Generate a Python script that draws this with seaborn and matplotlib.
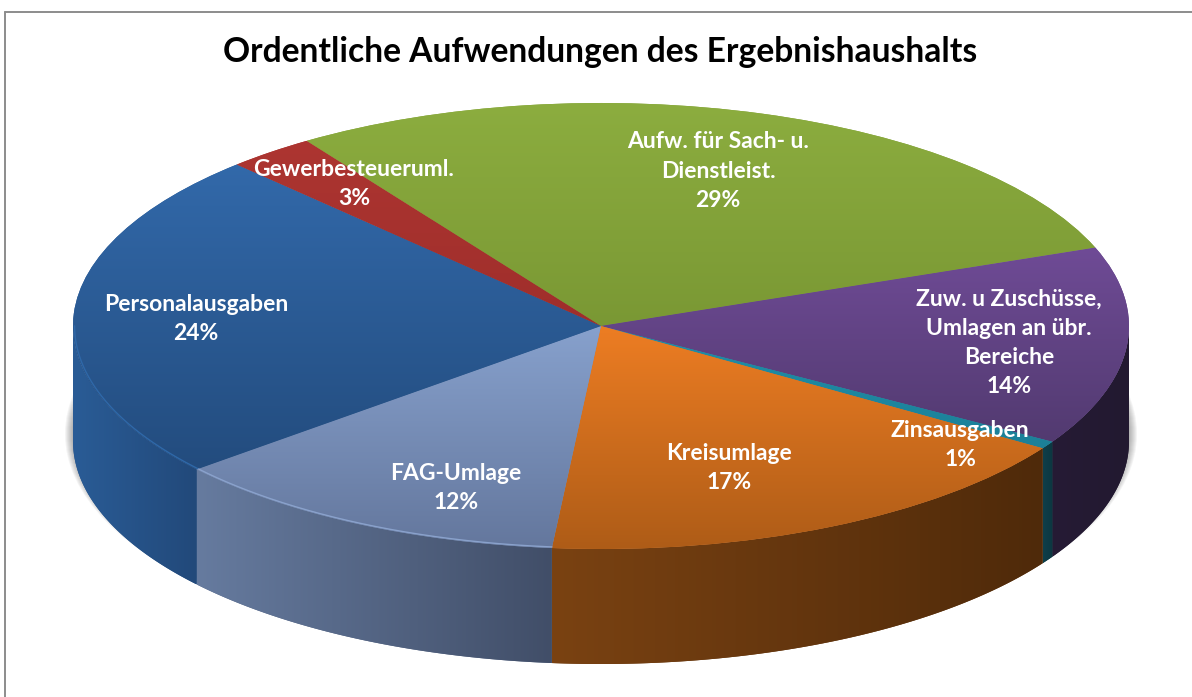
import numpy as np
import matplotlib
matplotlib.use('Agg')
import matplotlib.pyplot as plt
from matplotlib.lines import Line2D
from matplotlib.patches import Ellipse, Polygon
import seaborn as sns

# data, clockwise from the green slice
names = ['Aufw. für Sach- u.\nDienstleist.', 'Zuw. u Zuschüsse,\nUmlagen an übr.\nBereiche', 'Zinsausgaben',
         'Kreisumlage', 'FAG-Umlage', 'Personalausgaben', 'Gewerbesteueruml.']
values = [28.7, 14.4, 0.55, 17.25, 12.4, 24.0, 2.7]
title = 'Ordentliche Aufwendungen des Ergebnishaushalts'

# colours: top face (upper, lower) and side wall (left, right)
top_colors = [('#8cad3f', '#7a9834'), ('#6f4b96', '#523a70'), ('#1f8fa8', '#1c8098'), ('#ed7d23', '#ae5c17'),
              ('#87a1cd', '#64779d'), ('#3269aa', '#234c7e'), ('#ad3531', '#9f2e2b')]
wall_colors = [('#4d6020', '#4d6020'), ('#261b35', '#221930'), ('#0e3f4a', '#0c3640'), ('#7a4212', '#4f2a0a'),
               ('#667b9f', '#414e68'), ('#2a5c96', '#22497a'), ('#5f1c1a', '#5f1c1a')]
rim_colors = [None, None, None, None, '#8aa2cc', '#2f68a8', None]

# label centres in pixels of the first line
label_pos = [(718, 142), (1009, 299), (960, 430), (729, 453), (456, 473), (196, 304), (354, 169)]

# pixel geometry of the pie
W, H = 1192, 697
cx, cy, rx, ry = 601, 326, 528, 223
depth = 115 / ry


def px(x, y):
    return (x - cx) / rx, (cy - y) / ry


sns.set_theme(style='white')
plt.rcParams['font.family'] = ['Lato', 'DejaVu Sans']

fig = plt.figure(figsize=(W / 100, H / 100), dpi=100, facecolor='white')
ax = fig.add_axes([0, 0, 1, 1])

wedges, _ = ax.pie(values, startangle=123.9, counterclock=False, radius=1, center=(0, 0))
ax.set_aspect('auto')
ax.set_axis_off()
xlim = (px(0, 0)[0], px(W, 0)[0])
ylim = (px(0, H)[1], px(0, 0)[1])

# soft shadow below the body
for k in range(9):
    ax.add_patch(Ellipse(px(cx, 434), 2 * (rx + k) / rx, 2 * (ry + 1 + k * 0.5) / ry,
                         facecolor='#303030', edgecolor='none', alpha=0.05, zorder=0))

for w, tc, wc, rim in zip(wedges, top_colors, wall_colors, rim_colors):
    # top face with vertical gradient
    ext = w.get_path().get_extents()
    cmap = sns.blend_palette(tc, n_colors=256, as_cmap=True)
    w.set_facecolor(sns.blend_palette(tc, n_colors=3)[1])
    w.set_edgecolor('none')
    w.set_zorder(3)
    im = ax.imshow(np.linspace(0, 1, 256)[:, None], cmap=cmap, aspect='auto', origin='upper', vmin=0, vmax=1,
                   extent=(ext.x0, ext.x1, ext.y0, ext.y1), zorder=3.1, interpolation='bilinear')
    im.set_clip_path(w)

    # side wall, only the part on the front half of the ellipse
    t = np.radians(np.linspace(w.theta1, w.theta2, 400))
    t = t[np.sin(t) <= 0.001]
    if len(t) == 0:
        continue
    xs, ys = np.cos(t), np.sin(t)
    poly = Polygon(np.r_[np.c_[xs, ys], np.c_[xs, ys - depth][::-1]], closed=True,
                   facecolor=sns.blend_palette(wc, n_colors=3)[1], edgecolor='none', zorder=2)
    ax.add_patch(poly)
    cmap = sns.blend_palette(wc, n_colors=256, as_cmap=True)
    im = ax.imshow(np.linspace(0, 1, 256)[None, :], cmap=cmap, aspect='auto', vmin=0, vmax=1,
                   extent=(xs.min(), xs.max(), (ys - depth).min(), ys.max()), zorder=2.1, interpolation='bilinear')
    im.set_clip_path(poly)

    # light rim on the top edge
    if rim:
        ax.plot(0.997 * xs, 0.995 * ys, color=rim, lw=1.0, zorder=3.5)

ax.set_xlim(xlim)
ax.set_ylim(ylim)

# slice labels, 29 px line pitch
for name, v, (lx, ly) in zip(names, values, label_pos):
    lines = name.split('\n') + [f'{v:.0f}%']
    for i, line in enumerate(lines):
        x, y = px(lx, ly + 29 * i)
        ax.text(x, y, line, color='white', fontsize=16.5, fontweight='bold', ha='center', va='center', zorder=5)

x, y = px(600, 52)
ax.text(x, y, title, color='black', fontsize=24.2, fontweight='bold', ha='center', va='center', zorder=5)

# chart frame
fig.add_artist(Line2D([5 / W, 1], [1 - 12 / H, 1 - 12 / H], color='#8c8c8c', lw=1.4))
fig.add_artist(Line2D([5 / W, 5 / W], [0, 1 - 12 / H], color='#8c8c8c', lw=1.4))

fig.savefig('out.png', dpi=100, facecolor='white')
